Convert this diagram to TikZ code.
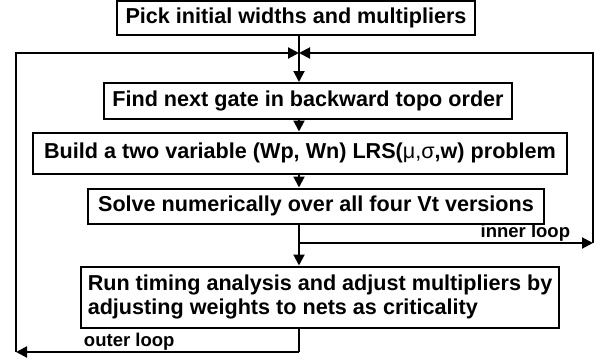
\documentclass[tikz,border=0pt]{standalone}
\usepackage{fontspec}
\setmainfont{Liberation Sans}
\usetikzlibrary{arrows.meta}
\tikzset{
  stepbox/.style={draw, line width=2pt, inner sep=0pt, align=center,
    font=\bfseries\fontsize{21.6}{24}\selectfont},
  loopline/.style={line width=2pt},
  arr/.style={line width=2pt, -{Triangle[length=11pt,width=11pt]}},
  looplabel/.style={inner sep=1pt, font=\bfseries\fontsize{18.5}{20}\selectfont}
}
\begin{document}
\begin{tikzpicture}[x=1pt,y=-1pt]
    \useasboundingbox (0,0) rectangle (603,362);
    \def\sx{299}
    \node[stepbox, minimum width=358pt, minimum height=34pt] (B1) at (296,18) {Pick initial widths and multipliers};
    \node[stepbox, minimum width=408pt, minimum height=36pt] (B2) at (308,101) {Find next gate in backward topo order};
    \node[stepbox, minimum width=534pt, minimum height=41pt] (B3) at (300,153) {Build a two variable (Wp, Wn) LRS({\mdseries μ,σ},w) problem};
    \node[stepbox, minimum width=456pt, minimum height=35pt] (B4) at (316,206) {Solve numerically over all four Vt versions};
    \node[stepbox, minimum width=478pt, minimum height=61pt, align=left] (B5) at (320,297) {Run timing analysis and adjust multipliers by\\adjusting weights to nets as criticality};
    \coordinate (J0) at (\sx,53);
    \coordinate (J1) at (\sx,243);
    \coordinate (LT) at (16,53);
    \coordinate (RT) at (593,53);
    \coordinate (RB) at (593,243);
    \coordinate (LB) at (16,352);
    \coordinate (OB) at (\sx,352);
    \draw[loopline] (B1.south -| J0) -- (J0);
    \path (J0) edge [arr] (B2.north -| J0);
    \path (B2.south -| J0) edge [arr] (B3.north -| J0);
    \path (B3.south -| J0) edge [arr] (B4.north -| J0);
    \path (B4.south -| J0) edge [arr] (B5.north -| J0);
    \path (J1) edge [arr] node [looplabel, auto, pos=0.77] {inner loop} (RB);
    \draw[arr] (RB) -- (RT) -- (J0);
    \draw[loopline] (B5.south -| J0) -- (OB);
    \path (OB) edge [arr] node [looplabel, auto, swap, pos=0.6] {outer loop} (LB);
    \draw[arr] (LB) -- (LT) -- (J0);
  \end{tikzpicture}
\end{document}
